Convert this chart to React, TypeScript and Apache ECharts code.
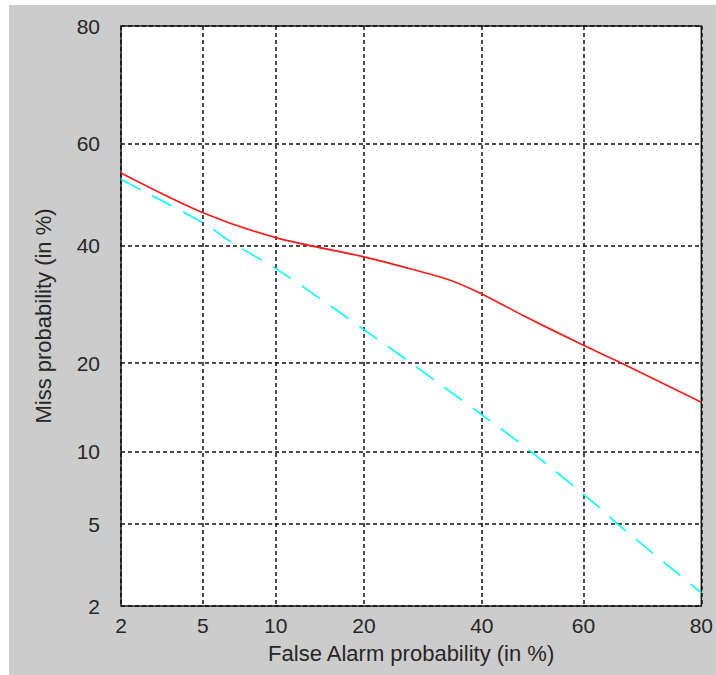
import React, { useEffect, useRef } from 'react';
import * as echarts from 'echarts';

// Tick labels (percent) shared by both axes
const tickLabels = [2, 5, 10, 20, 40, 60, 80];

// Solid red curve: false alarm % vs miss %
const redFalseAlarm = [2, 5, 10, 20, 25.3, 33.9, 39.5, 47.9, 59.7, 66.6, 80];
const redMiss = [54.3, 46.4, 41.5, 37.8, 36.1, 33.5, 31.2, 27.4, 22.7, 20.2, 15.0];

// Dashed cyan curve
const cyanFalseAlarm = [2, 5, 6.7, 10.6, 20.4, 26.9, 39.5, 49.3, 62.9, 66.6, 80];
const cyanMiss = [53.0, 44.4, 40.5, 34.8, 24.7, 20.2, 13.8, 10.1, 5.95, 4.96, 2.34];

// Normal deviate (inverse standard normal CDF) of a percentage, Acklam's algorithm
function probit(pct: number): number {
  const p = pct / 100;
  const a = [-3.969683028665376e1, 2.209460984245205e2, -2.759285104469687e2, 1.38357751867269e2, -3.066479806614716e1, 2.506628277459239];
  const b = [-5.447609879822406e1, 1.615858368580409e2, -1.556989798598866e2, 6.680131188771972e1, -1.328068155288572e1];
  const c = [-7.784894002430293e-3, -3.223964580411365e-1, -2.400758277161838, -2.549732539343734, 4.374664141464968, 2.938163982698783];
  const d = [7.784695709041462e-3, 3.224671290700398e-1, 2.445134137142996, 3.754408661907416];
  const pl = 0.02425;
  let q: number, r: number;
  if (p < pl) {
    q = Math.sqrt(-2 * Math.log(p));
    return (((((c[0] * q + c[1]) * q + c[2]) * q + c[3]) * q + c[4]) * q + c[5]) / ((((d[0] * q + d[1]) * q + d[2]) * q + d[3]) * q + 1);
  } else if (p <= 1 - pl) {
    q = p - 0.5;
    r = q * q;
    return (((((a[0] * r + a[1]) * r + a[2]) * r + a[3]) * r + a[4]) * r + a[5]) * q / (((((b[0] * r + b[1]) * r + b[2]) * r + b[3]) * r + b[4]) * r + 1);
  }
  q = Math.sqrt(-2 * Math.log(1 - p));
  return -(((((c[0] * q + c[1]) * q + c[2]) * q + c[3]) * q + c[4]) * q + c[5]) / ((((d[0] * q + d[1]) * q + d[2]) * q + d[3]) * q + 1);
}

export default function App() {
  const ref = useRef<HTMLDivElement>(null);
  useEffect(() => {
    const chart = echarts.init(ref.current!, null, { renderer: 'svg' });
    const tickVals = tickLabels.map(probit);
    const fmt = (v: number) => {
      const i = tickVals.findIndex((t) => Math.abs(t - v) < 1e-6);
      return i >= 0 ? String(tickLabels[i]) : '';
    };
    const font = { fontFamily: 'Liberation Sans', fontSize: 21, color: '#262626' };
    const titleFont = { fontFamily: 'Liberation Sans', fontSize: 22, color: '#262626' };
    const split = { show: true, lineStyle: { color: '#111', type: [4, 3], width: 1.5 } };
    const toPairs = (xs: number[], ys: number[]) => xs.map((x, i) => [probit(x), probit(ys[i])]);

    chart.setOption({
      animation: false,
      backgroundColor: 'transparent',
      graphic: [
        { type: 'rect', z: -10, silent: true, shape: { x: 9, y: 5, width: 707, height: 670 }, style: { fill: '#cccccc' } },
      ],
      grid: {
        left: 121, top: 26, right: 13, bottom: 69,
        show: true, backgroundColor: '#ffffff', borderColor: '#1a1a1a', borderWidth: 1.5,
      },
      xAxis: {
        type: 'value',
        min: tickVals[0], max: tickVals[tickVals.length - 1],
        axisLine: { show: false },
        axisTick: { show: false, customValues: tickVals },
        axisLabel: { customValues: tickVals, formatter: fmt, ...font, margin: 9 },
        splitLine: split,
        name: 'False Alarm probability (in %)',
        nameLocation: 'middle', nameGap: 36,
        nameTextStyle: titleFont,
      },
      yAxis: {
        type: 'value',
        min: tickVals[0], max: tickVals[tickVals.length - 1],
        axisLine: { show: false },
        axisTick: { show: false, customValues: tickVals },
        axisLabel: { customValues: tickVals, formatter: fmt, ...font, margin: 21 },
        splitLine: split,
        name: 'Miss probability (in %)',
        nameLocation: 'middle', nameGap: 67,
        nameTextStyle: titleFont,
      },
      series: [
        {
          type: 'line', data: toPairs(redFalseAlarm, redMiss), smooth: 0.3, symbol: 'none',
          lineStyle: { color: '#ff1a1a', width: 1.7 },
        },
        {
          type: 'line', data: toPairs(cyanFalseAlarm, cyanMiss), smooth: 0.3, symbol: 'none',
          lineStyle: { color: '#00ffff', width: 1.6, type: [22, 13] },
        },
      ],
    });
    return () => chart.dispose();
  }, []);
  return (
    <div
      ref={ref}
      style={{ position: 'fixed', left: 0, top: 0, width: 716, height: 675, background: '#ffffff' }}
    />
  );
}
